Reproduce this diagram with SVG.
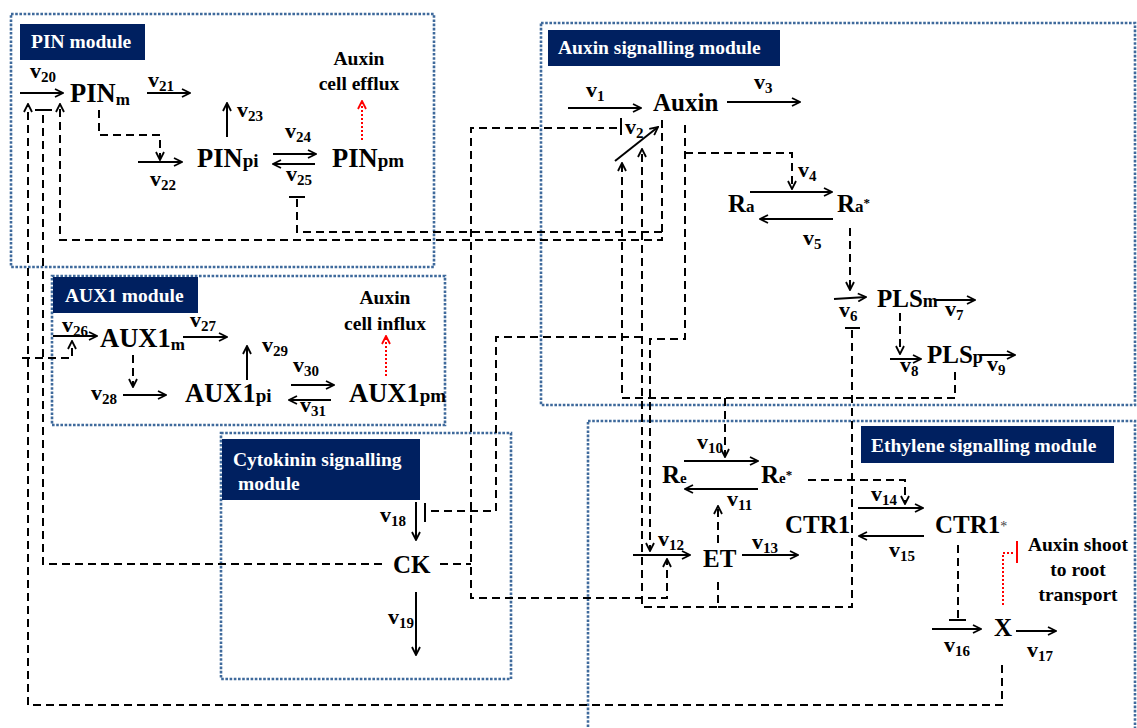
<svg xmlns="http://www.w3.org/2000/svg" width="1137" height="728" viewBox="0 0 1137 728">
<defs>
<style>
.box{fill:none;stroke:#3f6a9c;stroke-width:2.6;stroke-dasharray:2.6 1.6}
.lbl{fill:#002060}
.lt{font-family:"Liberation Serif","Times New Roman",serif;font-weight:bold;font-size:19.5px;fill:#fff}
.nd{font-family:"Liberation Serif","Times New Roman",serif;font-weight:bold;font-size:25px;fill:#000}
.big{font-size:26.5px}
.v{font-family:"Liberation Serif","Times New Roman",serif;font-weight:bold;font-size:22px;fill:#000}
.vs{font-size:15px}
.an{font-family:"Liberation Serif","Times New Roman",serif;font-weight:bold;font-size:19.5px;fill:#000;text-anchor:middle}
.s{fill:none;stroke:#000;stroke-width:2}
.d{fill:none;stroke:#000;stroke-width:2;stroke-dasharray:8 5}
.r{fill:none;stroke:#f00;stroke-width:2;stroke-dasharray:2 2}
.t{fill:none;stroke:#000;stroke-width:2}
</style>
<marker id="ah" viewBox="0 0 10 10" refX="9" refY="5" markerWidth="10" markerHeight="10" markerUnits="userSpaceOnUse" orient="auto"><path d="M1,1 L9,5 L1,9" fill="none" stroke="#000" stroke-width="1.8" stroke-dasharray="none"/></marker>
<marker id="rh" viewBox="0 0 10 10" refX="9" refY="5" markerWidth="10" markerHeight="10" markerUnits="userSpaceOnUse" orient="auto"><path d="M1,1 L9,5 L1,9" fill="none" stroke="#f00" stroke-width="1.8" stroke-dasharray="none"/></marker>
</defs>
<rect width="1137" height="728" fill="#fff"/>

<g id="modules">
<g id="pin-module"><rect class="box" x="11" y="14" width="423" height="253"/><rect class="lbl" x="20" y="24" width="125" height="36"/><text class="lt" x="31" y="48">PIN module</text></g>
<g id="aux1-module"><rect class="box" x="52" y="276" width="393" height="149"/><rect class="lbl" x="53" y="277" width="145" height="36"/><text class="lt" x="65" y="302">AUX1 module</text></g>
<g id="auxin-module"><rect class="box" x="541" y="23" width="594" height="382"/><rect class="lbl" x="548" y="30" width="232" height="36"/><text class="lt" x="558" y="54">Auxin signalling module</text></g>
<g id="cytokinin-module"><rect class="box" x="221" y="433" width="290" height="246"/><rect class="lbl" x="222" y="439" width="198" height="61"/><text class="lt" x="233" y="466">Cytokinin signalling</text><text class="lt" x="238" y="490">module</text></g>
<g id="ethylene-module"><rect class="box" x="588" y="421" width="547" height="320"/><rect class="lbl" x="861" y="426" width="253" height="37"/><text class="lt" x="871" y="452">Ethylene signalling module</text></g>
</g>

<g id="connectors">
<!-- solid reaction arrows -->
<g marker-end="url(#ah)">
<line class="s" x1="20" y1="93" x2="63" y2="93"/>
<line class="s" x1="147" y1="93" x2="190" y2="93"/>
<line class="s" x1="227" y1="137" x2="227" y2="103"/>
<line class="s" x1="138" y1="162" x2="182" y2="162"/>
<line class="s" x1="273" y1="154" x2="316" y2="154"/>
<line class="s" x1="315" y1="164" x2="273" y2="164"/>
<line class="s" x1="53" y1="336" x2="97" y2="336"/>
<line class="s" x1="183" y1="337" x2="227" y2="337"/>
<line class="s" x1="247" y1="380" x2="247" y2="346"/>
<line class="s" x1="123" y1="395" x2="166" y2="395"/>
<line class="s" x1="291" y1="385" x2="334" y2="385"/>
<line class="s" x1="331" y1="400" x2="289" y2="400"/>
<line class="s" x1="568" y1="108" x2="641" y2="108"/>
<line class="s" x1="727" y1="102" x2="800" y2="102"/>
<line class="s" x1="615" y1="161" x2="658" y2="127"/>
<line class="s" x1="750" y1="192" x2="832" y2="192"/>
<line class="s" x1="833" y1="219" x2="760" y2="219"/>
<line class="s" x1="834" y1="299" x2="866" y2="297"/>
<line class="s" x1="934" y1="300" x2="975" y2="300"/>
<line class="s" x1="890" y1="359" x2="921" y2="359"/>
<line class="s" x1="980" y1="355" x2="1015" y2="355"/>
<line class="s" x1="684" y1="461" x2="758" y2="461"/>
<line class="s" x1="758" y1="489" x2="685" y2="489"/>
<line class="s" x1="633" y1="555" x2="690" y2="555"/>
<line class="s" x1="742" y1="555" x2="798" y2="555"/>
<line class="s" x1="858" y1="508" x2="923" y2="508"/>
<line class="s" x1="924" y1="536" x2="859" y2="536"/>
<line class="s" x1="932" y1="629" x2="981" y2="629"/>
<line class="s" x1="1016" y1="631" x2="1056" y2="631"/>
<line class="s" x1="416" y1="502" x2="416" y2="540"/>
<line class="s" x1="416" y1="592" x2="416" y2="655"/>
</g>
<!-- dashed regulation arrows -->
<g marker-end="url(#ah)">
<path class="d" d="M99,110 V135 H160 V160"/>
<path class="d" d="M662,120 V240 H60 V104"/>
<path class="d" d="M1002,665 V705 H28 V104"/>
<path class="d" d="M22,358 H72 V341"/>
<path class="d" d="M133,355 V387"/>
<path class="d" d="M617,128 H471 V598 H667 V559"/>
<path class="d" d="M718,543 V506"/>
<path class="d" d="M718,582 V607 H642 V149"/>
<path class="d" d="M955,372 V398 H622 V163"/>
<path class="d" d="M725,398 V457"/>
<path class="d" d="M685,125 V339 H650 V551"/>
<path class="d" d="M685,153 H792 V189"/>
<path class="d" d="M850,228 V290"/>
<path class="d" d="M900,313 V354"/>
<path class="d" d="M808,480 H905 V504"/>
</g>
<g>
<path class="d" d="M662,232 H297 V199"/>
<path class="d" d="M382,564 H43 V111"/>
<path class="d" d="M440,564 H471"/>
<path class="d" d="M718,607 H852 V330"/>
<path class="d" d="M642,337 H496 V511 H430"/>
<path class="d" d="M958,545 V619"/>
</g>
<!-- inhibition bars -->
<line class="t" x1="289" y1="197" x2="305" y2="197"/>
<line class="t" x1="35" y1="110" x2="52" y2="110"/>
<line class="t" x1="621" y1="118" x2="621" y2="135"/>
<line class="t" x1="845" y1="328" x2="860" y2="328"/>
<line class="t" x1="425" y1="503" x2="425" y2="522"/>
<line class="t" x1="949" y1="620" x2="966" y2="620"/>
<!-- red dotted -->
<path class="r" d="M362,140 V101" marker-end="url(#rh)"/>
<path class="r" d="M386,376 V336" marker-end="url(#rh)"/>
<path class="r" d="M1003,605 V553 H1015"/>
<line x1="1017" y1="541" x2="1017" y2="563" stroke="#f00" stroke-width="2"/>
<!-- rate labels -->
<text class="v" x="30" y="78">v<tspan class="vs" dy="4">20</tspan></text>
<text class="v" x="148" y="87">v<tspan class="vs" dy="4">21</tspan></text>
<text class="v" x="237" y="117">v<tspan class="vs" dy="4">23</tspan></text>
<text class="v" x="150" y="186">v<tspan class="vs" dy="4">22</tspan></text>
<text class="v" x="285" y="138">v<tspan class="vs" dy="4">24</tspan></text>
<text class="v" x="286" y="181">v<tspan class="vs" dy="4">25</tspan></text>
<text class="v" x="62" y="332">v<tspan class="vs" dy="4">26</tspan></text>
<text class="v" x="190" y="327">v<tspan class="vs" dy="4">27</tspan></text>
<text class="v" x="262" y="352">v<tspan class="vs" dy="4">29</tspan></text>
<text class="v" x="91" y="400">v<tspan class="vs" dy="4">28</tspan></text>
<text class="v" x="293" y="372">v<tspan class="vs" dy="4">30</tspan></text>
<text class="v" x="300" y="412">v<tspan class="vs" dy="4">31</tspan></text>
<text class="v" x="586" y="97">v<tspan class="vs" dy="4">1</tspan></text>
<text class="v" x="625" y="134">v<tspan class="vs" dy="4">2</tspan></text>
<text class="v" x="754" y="89">v<tspan class="vs" dy="4">3</tspan></text>
<text class="v" x="798" y="177">v<tspan class="vs" dy="4">4</tspan></text>
<text class="v" x="803" y="245">v<tspan class="vs" dy="4">5</tspan></text>
<text class="v" x="839" y="317">v<tspan class="vs" dy="4">6</tspan></text>
<text class="v" x="945" y="316">v<tspan class="vs" dy="4">7</tspan></text>
<text class="v" x="900" y="372">v<tspan class="vs" dy="4">8</tspan></text>
<text class="v" x="987" y="371">v<tspan class="vs" dy="4">9</tspan></text>
<text class="v" x="697" y="449">v<tspan class="vs" dy="4">10</tspan></text>
<text class="v" x="727" y="506">v<tspan class="vs" dy="4">11</tspan></text>
<text class="v" x="658" y="546">v<tspan class="vs" dy="4">12</tspan></text>
<text class="v" x="752" y="549">v<tspan class="vs" dy="4">13</tspan></text>
<text class="v" x="871" y="501">v<tspan class="vs" dy="4">14</tspan></text>
<text class="v" x="889" y="557">v<tspan class="vs" dy="4">15</tspan></text>
<text class="v" x="944" y="652">v<tspan class="vs" dy="4">16</tspan></text>
<text class="v" x="1027" y="657">v<tspan class="vs" dy="4">17</tspan></text>
<text class="v" x="380" y="522">v<tspan class="vs" dy="4">18</tspan></text>
<text class="v" x="388" y="624">v<tspan class="vs" dy="4">19</tspan></text>
</g>

<g id="PINm"><text class="nd big" x="70" y="102">PIN<tspan font-size="17" dy="3">m</tspan></text></g>
<g id="PINpi"><text class="nd big" x="197" y="167">PIN<tspan font-size="19">pi</tspan></text></g>
<g id="PINpm"><text class="nd big" x="332" y="167">PIN<tspan font-size="19">pm</tspan></text></g>
<g id="efflux"><text class="an" x="359" y="65">Auxin</text><text class="an" x="359" y="90">cell efflux</text></g>
<g id="AUX1m"><text class="nd big" x="100" y="347">AUX1<tspan font-size="17" dy="3">m</tspan></text></g>
<g id="AUX1pi"><text class="nd big" x="185" y="402">AUX1<tspan font-size="19">pi</tspan></text></g>
<g id="AUX1pm"><text class="nd big" x="349" y="402">AUX1<tspan font-size="19">pm</tspan></text></g>
<g id="influx"><text class="an" x="385" y="304">Auxin</text><text class="an" x="385" y="330">cell influx</text></g>
<g id="Auxin"><text class="nd" x="653" y="111">Auxin</text></g>
<g id="Ra"><text class="nd" x="728" y="212">R<tspan font-size="17">a</tspan></text></g>
<g id="Ra-star"><text class="nd" x="837" y="212">R<tspan font-size="17">a</tspan><tspan font-size="13" dy="-5">*</tspan></text></g>
<g id="PLSm"><text class="nd" x="877" y="307">PLS<tspan font-size="18">m</tspan></text></g>
<g id="PLSp"><text class="nd" x="927" y="363">PLS<tspan font-size="18">p</tspan></text></g>
<g id="Re"><text class="nd" x="662" y="483">R<tspan font-size="15">e</tspan></text></g>
<g id="Re-star"><text class="nd" x="761" y="483">R<tspan font-size="15">e</tspan><tspan font-size="13" dy="-4">*</tspan></text></g>
<g id="CTR1"><text class="nd" x="785" y="533">CTR1</text></g>
<g id="CTR1-star"><text class="nd" x="935" y="533">CTR1<tspan font-size="14" font-weight="normal" fill="#444" dy="-2">*</tspan></text></g>
<g id="ET"><text class="nd" x="703" y="567">ET</text></g>
<g id="X"><text class="nd" x="994" y="636">X</text></g>
<g id="CK"><text class="nd" x="393" y="573">CK</text></g>
<g id="shoot-root"><text class="an" x="1078" y="551">Auxin shoot</text><text class="an" x="1078" y="576">to root</text><text class="an" x="1078" y="601">transport</text></g>
</svg>
